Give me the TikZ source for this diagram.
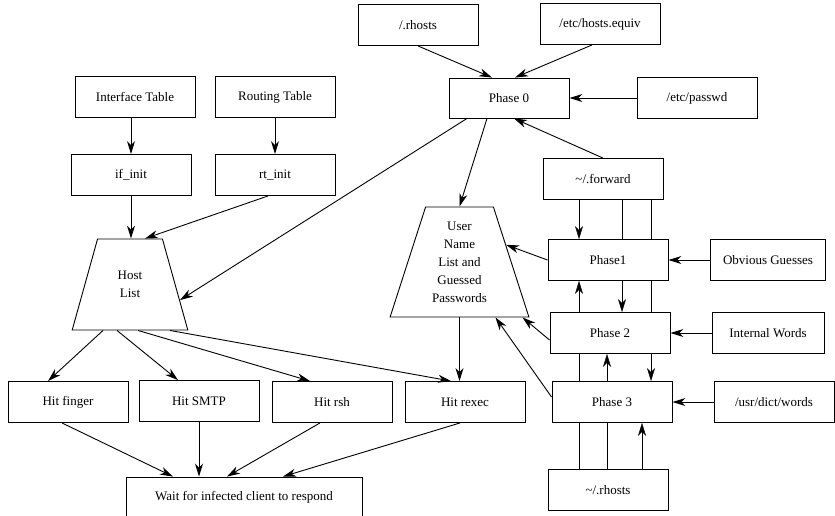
\documentclass[tikz,border=0pt]{standalone}
\usepackage{fontspec}
\setmainfont{Liberation Serif}
\usetikzlibrary{calc,shapes.geometric,arrows.meta,backgrounds}

\begin{document}
\begin{tikzpicture}[x=1pt,y=-1pt,line width=0.9pt,
    every node/.style={font=\fontsize{13}{18}\selectfont},
    box/.style={draw,fill=white,minimum width=120pt,minimum height=41pt,inner sep=2pt},
    heap/.style={draw,fill=white,trapezium,trapezium angle=70,trapezium stretches=true,align=center,inner sep=2pt},
    arr/.style={-{Stealth[length=13pt,width=8pt,inset=4pt]}}]
    \useasboundingbox (0,0) rectangle (835,515);

    % boxes
    \node[box] (rhosts0) at (418,25) {/.rhosts};
    \node[box] (hequiv) at (600,24) {/etc/hosts.equiv};
    \node[box,minimum height=40pt] (phase0) at (509,98) {Phase 0};
    \node[box] (passwd) at (697,98) {/etc/passwd};
    \node[box] (iftab) at (135,97) {Interface Table};
    \node[box] (rttab) at (275,97) {Routing Table};
    \node[box] (ifinit) at (131,175) {if\_init};
    \node[box] (rtinit) at (275,175) {rt\_init};
    \node[heap,minimum width=116pt,minimum height=91pt] (hosts) at (130,284.5) {Host\\List};
    \node[heap,minimum width=139pt,minimum height=110pt] (users) at (459.5,262) {User\\Name\\List and\\Guessed\\Passwords};
    \node[box] (fwd) at (603,179) {\textasciitilde/.forward};
    \node[box] (phase1) at (608,260) {Phase1};
    \node[box] (phase2) at (610,333) {Phase 2};
    \node[box] (phase3) at (612,402) {Phase 3};
    \node[box] (rhosts) at (608,490) {\textasciitilde/.rhosts};
    \node[box,minimum width=115pt] (obvious) at (768,260) {Obvious Guesses};
    \node[box,minimum width=112pt] (internal) at (768,333) {Internal Words};
    \node[box] (dict) at (774,402) {/usr/dict/words};
    \node[box] (finger) at (68,402) {Hit finger};
    \node[box] (smtp) at (199,401) {Hit SMTP};
    \node[box] (rsh) at (332,402) {Hit rsh};
    \node[box] (rexec) at (465,402) {Hit rexec};
    \node[box,minimum width=236pt,minimum height=40pt] (wait) at (244,497) {Wait for infected client to respond};

    \coordinate (colA) at (579,0);
    \coordinate (colB) at (607,0);
    \coordinate (colC) at (622,0);
    \coordinate (colD) at (642,0);
    \coordinate (colE) at (651,0);

    % phase 0
    \draw[arr] (rhosts0.south) -- ([xshift=-17pt]phase0.north);
    \draw[arr] ([xshift=-8pt]hequiv.south) -- ([xshift=6pt]phase0.north);
    \draw[arr] (passwd) -- (phase0);
    \draw[arr] (fwd.north) -- ([xshift=5pt]phase0.south);
    \draw[arr] ([xshift=-22pt]phase0.south) -- (users.north);
    \draw[arr] ([xshift=-42pt]phase0.south) -- ($(hosts.top right corner)!0.67!(hosts.bottom right corner)$);

    % host list
    \draw[arr] (ifinit.north |- iftab.south) -- (ifinit.north);
    \draw[arr] (rttab) -- (rtinit);
    \draw[arr] (ifinit.south) -- (ifinit.south |- hosts.north);
    \draw[arr] ([xshift=-7pt]rtinit.south) -- ([xshift=15pt]hosts.north);
    \draw[arr] ([xshift=-27pt]hosts.south) -- ([xshift=-20pt]finger.north);
    \draw[arr] ([xshift=-13pt]hosts.south) -- ([xshift=-21pt]smtp.north);
    \draw[arr] ([xshift=8pt]hosts.south) -- ([xshift=-22pt]rsh.north);
    \draw[arr] ([xshift=40pt]hosts.south) -- ([xshift=-14pt]rexec.north);
    \draw[arr] (users.south) -- (users.south |- rexec.north);

    % hits
    \draw[arr] ([xshift=-6pt]finger.south) -- ([xshift=-71pt]wait.north);
    \draw[arr] (smtp.south) -- (smtp.south |- wait.north);
    \draw[arr] ([xshift=-12pt]rsh.south) -- ([xshift=-17pt]wait.north);
    \draw[arr] ([xshift=-5pt]rexec.south) -- ([xshift=39pt]wait.north);

    % phases
    \draw[arr] (phase1.west) -- ($(users.top right corner)!0.345!(users.bottom right corner)$);
    \draw[arr] ([yshift=-7pt]phase2.west) -- ([xshift=-7pt]users.bottom right corner);
    \draw[arr] ([yshift=5pt]phase3.west) -- ([xshift=36pt]users.south);
    \draw[arr] (obvious) -- (phase1);
    \draw[arr] (internal) -- (phase2);
    \draw[arr] (dict) -- (phase3);

    \begin{scope}[on background layer]
        \draw[arr] (colA |- fwd.south) -- (colA |- phase1.north);
        \draw[arr] (colC |- fwd.south) -- (colC |- phase2.north);
        \draw[arr] (colE |- fwd.south) -- (colE |- phase3.north);
        \draw[arr] (colD |- rhosts.north) -- (colD |- phase3.south);
        \draw[arr] (colB |- rhosts.north) -- (colB |- phase2.south);
        \draw[arr] (colA |- rhosts.north) -- (colA |- phase1.south);
    \end{scope}
\end{tikzpicture}
\end{document}
